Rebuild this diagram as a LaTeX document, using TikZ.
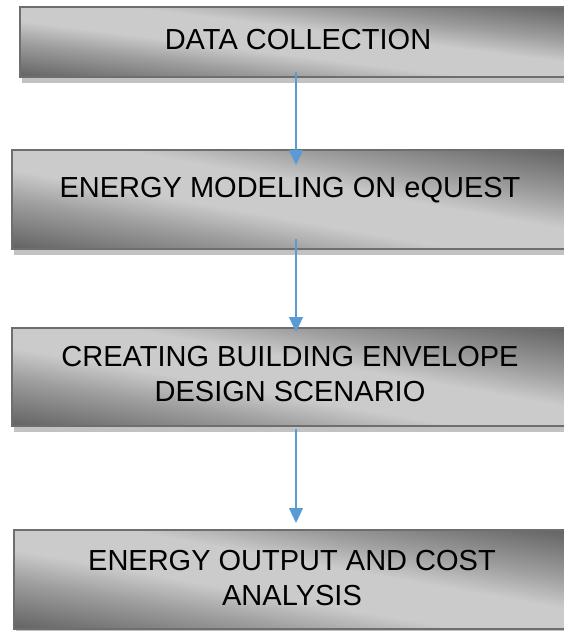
\documentclass[tikz,border=0pt]{standalone}
\usepackage{fontspec}
\setmainfont{Liberation Sans}
\usetikzlibrary{arrows.meta,shadows}

\definecolor{shdark}{HTML}{646464}
\definecolor{shmid}{HTML}{9E9E9E}
\definecolor{shlight}{HTML}{CBCBCB}
\definecolor{frame}{HTML}{6E6E6E}
\definecolor{shadowgray}{HTML}{C2C2C2}
\definecolor{flow}{HTML}{5B9BD5}

% metallic diagonal fill of the stage boxes: dark corners, light band
\pgfdeclarehorizontalshading{boxshade}{100bp}{%
  color(0bp)=(shdark); color(15bp)=(shdark); color(32bp)=(shmid);
  color(43bp)=(shlight); color(57bp)=(shlight); color(68bp)=(shmid);
  color(85bp)=(shdark); color(100bp)=(shdark)}

% shade a square at 45 degrees and stretch it onto the named box, so the
% light band runs from its top-left corner to its bottom-right corner
\newcommand\stagefill[1]{%
  \begin{pgfscope}
    \pgfpointdiff{\pgfpointanchor{#1}{south west}}{\pgfpointanchor{#1}{north east}}%
    \pgfgetlastxy{\stagew}{\stageh}%
    \pgfmathsetmacro\stagesx{\stagew/50}%
    \pgfmathsetmacro\stagesy{\stageh/50}%
    \pgftransformshift{\pgfpointanchor{#1}{center}}%
    \pgftransformxscale{\stagesx}%
    \pgftransformyscale{\stagesy}%
    \pgflowlevelsynccm
    \pgfpathrectangle{\pgfpoint{-25pt}{-25pt}}{\pgfpoint{50pt}{50pt}}%
    \pgfshadepath{boxshade}{45}%
    \pgfusepath{}%
  \end{pgfscope}}

\begin{document}
\begin{tikzpicture}[x=1pt,y=-1pt,
  stagebox/.style={rectangle, anchor=north west, inner sep=0pt, outer sep=0pt,
    minimum width=556pt, minimum height=#1pt,
    drop shadow={shadow xshift=2pt, shadow yshift=-6pt,
      fill=shadowgray, opacity=1}},
  stageframe/.style={draw=frame, line width=2pt},
  stagetext/.style={font=\fontsize{29}{35}\selectfont, align=center,
    inner sep=0pt, text=black},
  flowarrow/.style={draw=flow, line width=1.2pt,
    -{Triangle[length=15pt,width=14pt]}}]

\useasboundingbox (0,0) rectangle (564,631);

% stage boxes with their shadows
\node[stagebox=70] (b1) at (20,7)   {};
\node[stagebox=99] (b2) at (12,150) {};
\node[stagebox=98] (b3) at (12,328) {};
\node[stagebox=99] (b4) at (14,530) {};

% shaded fill and frame of each box
\foreach \b in {b1,b2,b3,b4} {
  \stagefill{\b}
  \draw[stageframe] (\b.north west) rectangle (\b.south east);
}

% stage labels
\node[stagetext, yshift=2pt]   (l1) at (b1.center) {DATA COLLECTION};
\node[stagetext, yshift=9.5pt] (l2) at (b2.center) {ENERGY MODELING ON eQUEST};
\node[stagetext, yshift=2.5pt] (l3) at (b3.center) {CREATING BUILDING ENVELOPE\\DESIGN SCENARIO};
\node[stagetext, yshift=1.5pt] (l4) at (b4.center) {ENERGY OUTPUT AND COST\\ANALYSIS};

% flow arrows
\draw[flowarrow] ([xshift=-2pt,yshift=5pt]b1.south) -- ([xshift=6pt,yshift=-15pt]b2.north);
\draw[flowarrow] ([xshift=6pt,yshift=10pt]b2.south) -- ([xshift=6pt,yshift=-4pt]b3.north);
\draw[flowarrow] ([xshift=6pt,yshift=-3pt]b3.south) -- ([xshift=4pt,yshift=7pt]b4.north);
\end{tikzpicture}
\end{document}
